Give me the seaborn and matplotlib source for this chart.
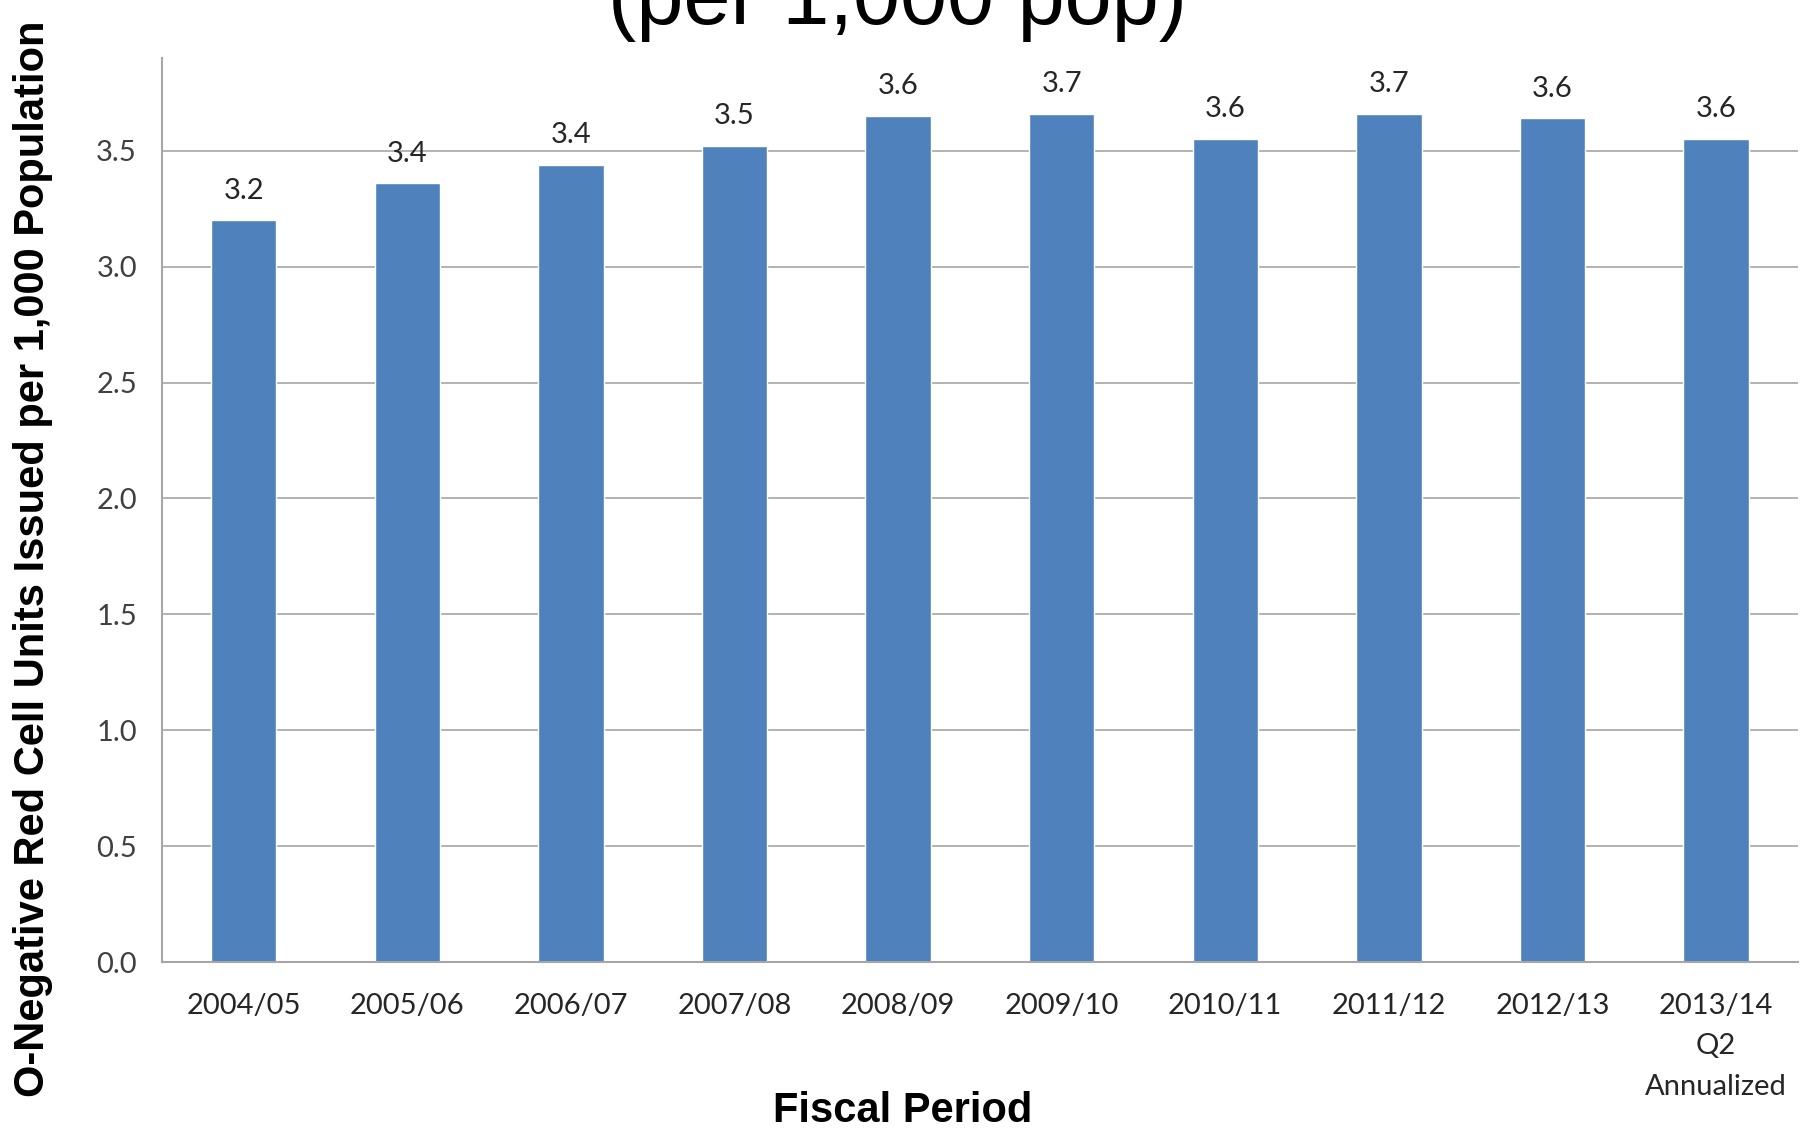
import matplotlib
matplotlib.use("Agg")
import matplotlib.pyplot as plt
import seaborn as sns
import pandas as pd
import numpy as np

###############################################################
# DATA
###############################################################
periods = ["2004/05", "2005/06", "2006/07", "2007/08", "2008/09",
           "2009/10", "2010/11", "2011/12", "2012/13", "2013/14\nQ2\nAnnualized"]
rate = [3.20, 3.36, 3.44, 3.52, 3.65, 3.66, 3.55, 3.66, 3.64, 3.55]
rate_labels = ["3.2", "3.4", "3.4", "3.5", "3.6", "3.7", "3.6", "3.7", "3.6", "3.6"]
y_ticks = [0.0, 0.5, 1.0, 1.5, 2.0, 2.5, 3.0, 3.5]

df = pd.DataFrame({"period": periods, "rate": rate})

###############################################################
# PLOT
###############################################################
sns.set_style("white")
plt.rcParams["font.family"] = ["Lato", "DejaVu Sans"]

fig = plt.figure(figsize=(18.16, 11.35), dpi=100)
ax = fig.add_axes([0.0892, 0.1524, 0.9008, 0.7965])

grid_col = "#a6a6a6"
ax.set_axisbelow(True)
ax.yaxis.grid(True, color=grid_col, linewidth=1.2)

sns.barplot(data=df, x="period", y="rate", color="#4F81BD", width=0.4,
            saturation=1, ax=ax)
ax.bar_label(ax.containers[0], labels=rate_labels, padding=12,
             fontsize=21, color="#262626")

ax.set_xlim(-0.5, len(periods) - 0.5)
ax.set_ylim(0, 3.9)
ax.set_yticks(y_ticks)
ax.set_yticklabels([f"{v:.1f}" for v in y_ticks], fontsize=21, color="#404040")
ax.set_xticklabels(periods, fontsize=21, color="#262626", linespacing=1.7)
ax.tick_params(axis="x", which="major", length=0, pad=22)
ax.set_xticks(np.arange(-0.5, len(periods)), minor=True)
ax.tick_params(axis="x", which="minor", length=14, width=1.2, color=grid_col, direction="out")
ax.tick_params(axis="y", which="major", length=10, width=1.2, color=grid_col, pad=8)

for side in ["top", "right"]:
    ax.spines[side].set_visible(False)
for side in ["left", "bottom"]:
    ax.spines[side].set_color(grid_col)
    ax.spines[side].set_linewidth(1.5)

ax.set_xlabel("")
ax.set_ylabel("")
fig.text(0.497, 0.021, "Fiscal Period", ha="center", va="center",
         fontsize=30, fontweight="bold", family="Liberation Sans", color="black")
fig.text(0.018, 0.508, "O-Negative Red Cell Units Issued per 1,000 Population",
         ha="center", va="center", rotation=90, fontsize=30, fontweight="bold",
         family="Liberation Sans", color="black")
# title's first line lies above the canvas in the original slide
fig.text(0.494, 0.979, "(per 1,000 pop)", ha="center", va="baseline",
         fontsize=61, family="Liberation Sans", color="black")

fig.savefig("out.png", dpi=100)
